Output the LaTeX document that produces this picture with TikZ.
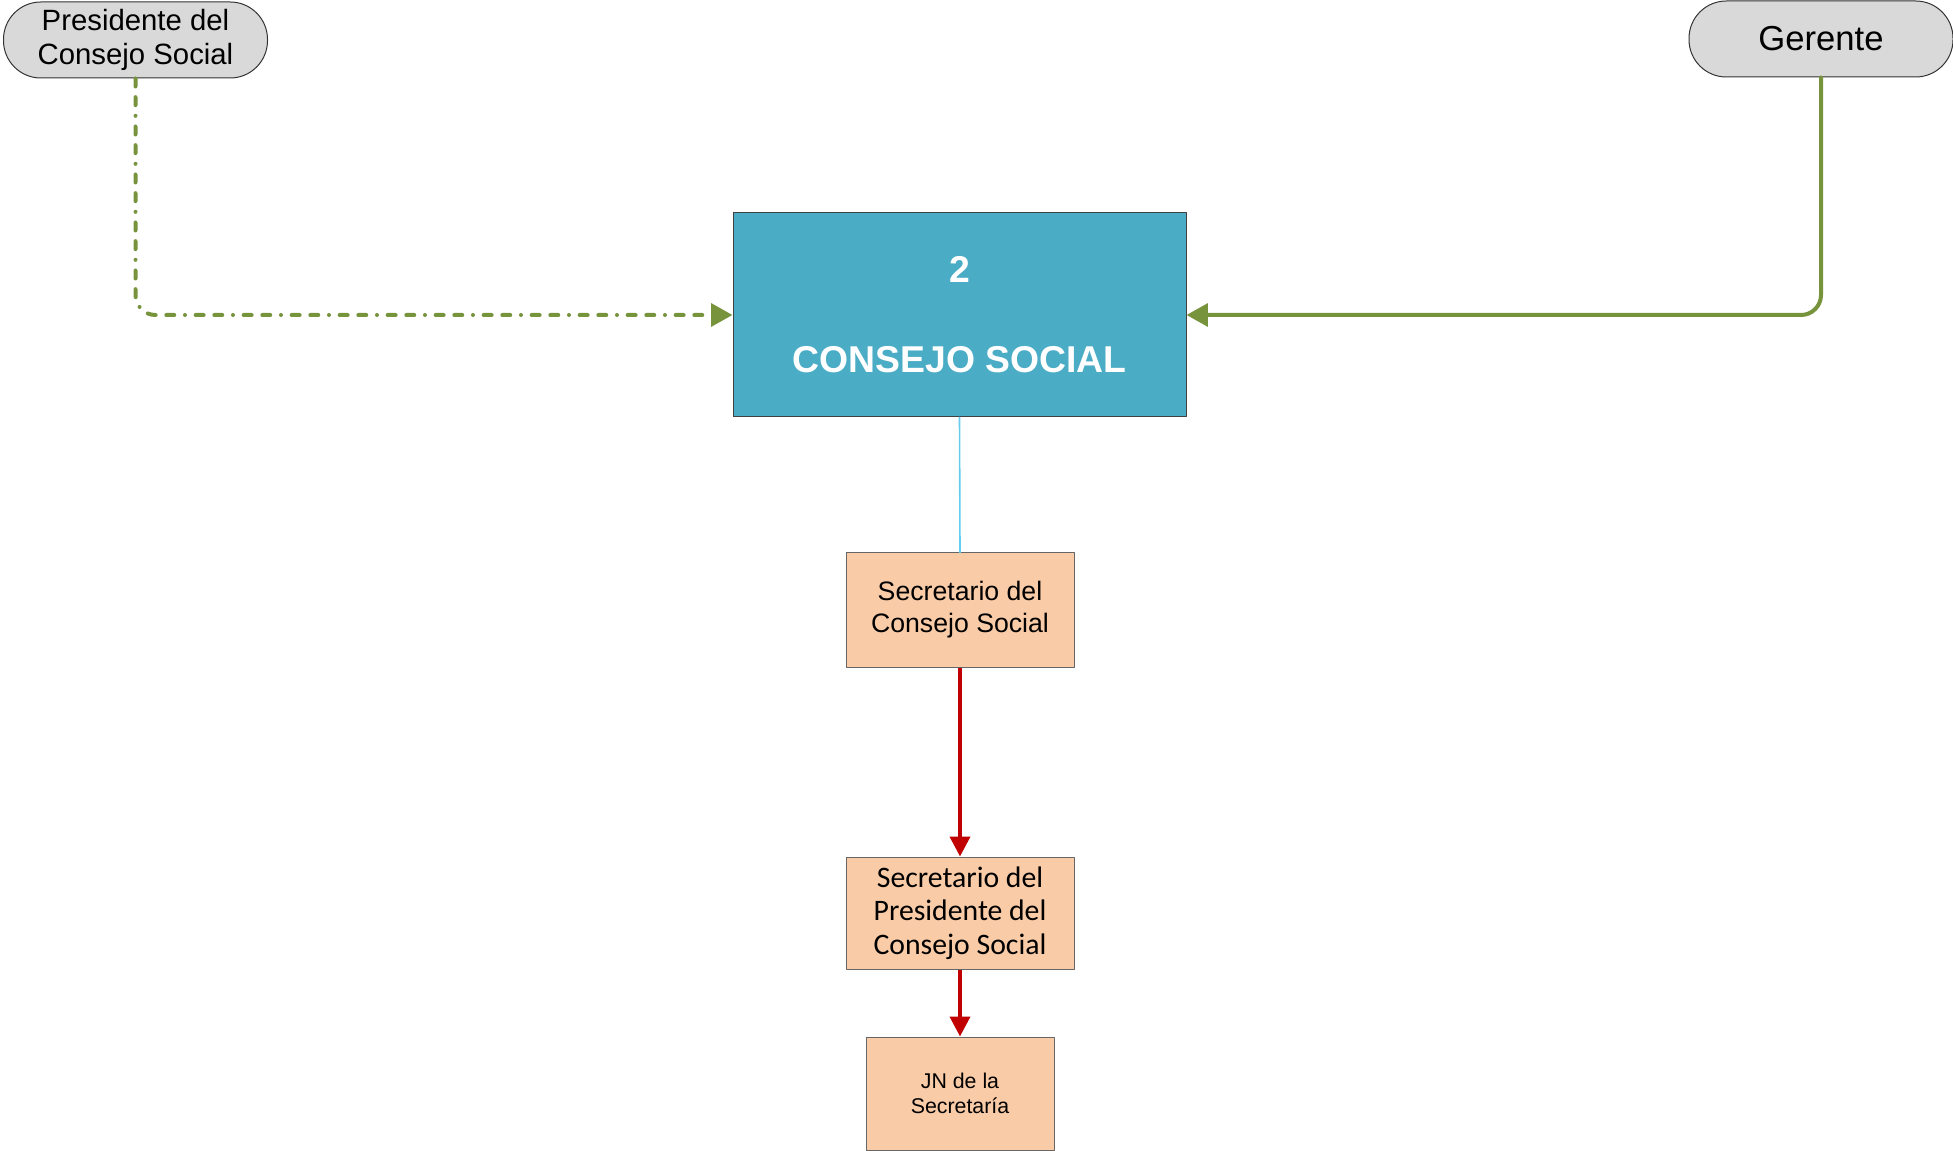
\documentclass[tikz,border=0pt]{standalone}
\usepackage{fontspec}
\setmainfont{Liberation Sans}
\newfontfamily\calibrifont{Carlito}
\usepackage{xcolor}
\usetikzlibrary{arrows.meta}
\definecolor{olivegreen}{HTML}{77933C}
\definecolor{consejoblue}{HTML}{4BACC6}
\definecolor{peach}{HTML}{F9CBA7}
\definecolor{darkred}{HTML}{C00000}
\definecolor{skyline}{HTML}{66CCEE}
\definecolor{pillgray}{HTML}{D9D9D9}

\begin{document}
\begin{tikzpicture}[line cap=round,line join=round,x=0.75pt,y=-0.75pt,
	pill/.style={draw=black!80,fill=pillgray,rounded corners=28pt,minimum width=198pt,minimum height=57pt,align=center,inner sep=0pt,line width=0.75pt},
	secbox/.style={draw=black!60,fill=peach,align=center,inner sep=0pt,line width=0.75pt},
	greenarrow/.style={draw=olivegreen,line width=3pt,rounded corners=15pt,-{Triangle[length=16pt,width=17pt]}},
	redarrow/.style={draw=darkred,line width=3pt,line cap=butt,-{Triangle[length=15pt,width=15pt]}}]
		\useasboundingbox (0,0) rectangle (1953,1151);
		% people at the top
		\node[pill,font=\fontsize{22}{25.5}\selectfont] (pres) at (135.5,40) {Presidente del\\Consejo Social};
		\node[pill,font=\fontsize{26}{28}\selectfont] (ger) at (1821,39) {Gerente};
		% main body
		\node[draw=black!75,fill=consejoblue,line width=0.75pt,minimum width=339.75pt,minimum height=153pt,text=white,font=\bfseries\fontsize{28}{34}\selectfont,align=center] (consejo) at (959.5,315) {2\\[33.5pt]CONSEJO SOCIAL};
		% secretariat
		\node[secbox,minimum width=171pt,minimum height=85.5pt,font=\fontsize{20}{24}\selectfont] (secCS) at (960,610) {Secretario del\\Consejo Social\rule[-3pt]{0pt}{1pt}};
		\node[secbox,minimum width=171pt,minimum height=84pt,font=\calibrifont\fontsize{22.3}{25}\selectfont] (secPres) at (960,913) {Secretario del\\Presidente del\\Consejo Social};
		\node[secbox,minimum width=141pt,minimum height=84.75pt,font=\fontsize{16}{19}\selectfont] (jn) at (960,1093.5) {JN de la\\Secretaría};
		% connectors
		\draw[greenarrow,dash pattern=on 6pt off 8pt on 6pt off 8pt on 0pt off 8pt] (pres.south) |- (consejo.west);
		\draw[greenarrow] (ger.south) |- (consejo.east);
		\draw[skyline,line width=1.2pt] (consejo.south) -- (secCS.north);
		\draw[redarrow] (secCS.south) -- (secPres.north);
		\draw[redarrow] (secPres.south) -- (jn.north);
	\end{tikzpicture}
\end{document}
